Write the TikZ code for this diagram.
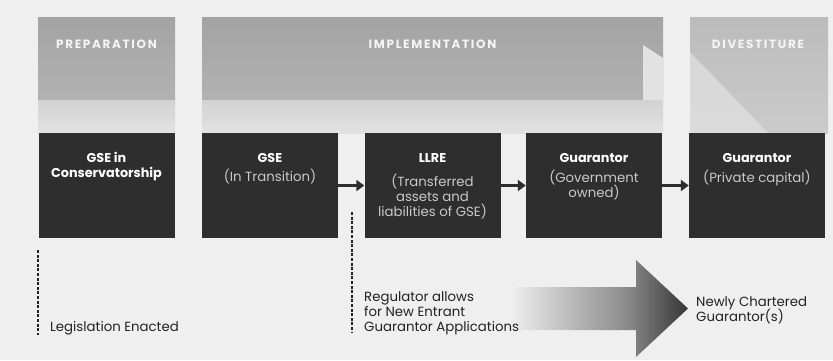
\documentclass[tikz,border=0pt]{standalone}
\usepackage{fontspec}
\setmainfont{Poppins}
\newfontfamily\banfont{Poppins}[LetterSpace=14]
\usetikzlibrary{arrows.meta}
\definecolor{bgc}{HTML}{EFEFEF}
\definecolor{bantop}{HTML}{A3A3A3}
\definecolor{banbot}{HTML}{B2B2B2}
\definecolor{lowtop}{HTML}{D2D2D2}
\definecolor{lowbot}{HTML}{E2E2E2}
\definecolor{divtop}{HTML}{BBBBBB}
\definecolor{divbot}{HTML}{CBCBCB}
\definecolor{boxc}{HTML}{2E2E2E}
\definecolor{subc}{HTML}{C9C9C9}
\definecolor{inkc}{HTML}{222222}
\definecolor{arrowmid}{HTML}{8A8A8A}
\definecolor{arrowtip}{HTML}{353535}
\pgfdeclarehorizontalshading{bigarrow}{100bp}{color(0bp)=(bgc); color(25bp)=(bgc); color(58bp)=(arrowmid); color(75bp)=(arrowtip); color(100bp)=(arrowtip)}
\tikzset{
  stagebox/.style={fill=boxc, minimum width=136pt, minimum height=105pt, inner sep=0pt, draw=none},
  boxtitle/.style={anchor=base, text=white, inner sep=0pt, font=\fontsize{12.8}{15}\selectfont\bfseries},
  boxsub/.style={anchor=base, text=subc, inner sep=0pt, font=\fontsize{13.3}{15}\selectfont},
  bantext/.style={anchor=center, text=white!96!black, inner sep=0pt, font=\banfont\fontsize{12}{14}\selectfont\bfseries},
  note/.style={anchor=base west, text=inkc, inner sep=0pt, font=\fontsize{13.3}{15}\selectfont},
  flow/.style={draw=boxc, line width=3.5pt, -{Triangle[length=8pt,width=11pt]}},
  dashline/.style={draw=inkc, line width=1.6pt, dash pattern=on 3pt off 1.6pt}
}
\begin{document}
\begin{tikzpicture}[x=1pt,y=-1pt]
\useasboundingbox (0,0) rectangle (833,360);
\fill[bgc] (0,0) rectangle (833,360);

% phase banners
\shade[top color=bantop, bottom color=banbot] (38,17) rectangle (175,100);
\shade[top color=lowtop, bottom color=lowbot] (38,100) rectangle (175,133);
\shade[top color=bantop, bottom color=banbot] (202,17) rectangle (663,100);
\shade[top color=lowtop, bottom color=lowbot] (202,100) rectangle (663,133);
\fill[lowbot] (643,45) -- (663,58) -- (663,100) -- (643,100) -- cycle;
\shade[top color=divtop, bottom color=divbot] (690,17) rectangle (828,133);
\fill[lowbot, opacity=0.7] (690,52) -- (768,133) -- (690,133) -- cycle;

\node[bantext] (ban1) at (106.5,44) {PREPARATION};
\node[bantext] (ban2) at (432.5,44) {IMPLEMENTATION};
\node[bantext] (ban3) at (758,44) {DIVESTITURE};

% stage boxes
\node[stagebox] (b1) at (106.5,185.5) {};
\node[stagebox] (b2) at (270,185.5) {};
\node[stagebox] (b3) at (432.5,185.5) {};
\node[stagebox] (b4) at (594,185.5) {};
\node[stagebox] (b5) at (757,185.5) {};

\node[boxtitle] (t1a) at (106.5,162.5) {GSE in};
\node[boxtitle] (t1b) at (106.5,177.5) {Conservatorship};
\node[boxtitle] (t2a) at (270,162.5) {GSE};
\node[boxsub] (t2b) at (270,181.5) {(In Transition)};
\node[boxtitle] (t3a) at (432.5,162.5) {LLRE};
\node[boxsub] (t3b) at (432.5,186.5) {(Transferred};
\node[boxsub] (t3c) at (432.5,201.5) {assets and};
\node[boxsub] (t3d) at (432.5,216.5) {liabilities of GSE)};
\node[boxtitle] (t4a) at (594,162.5) {Guarantor};
\node[boxsub] (t4b) at (594,182.5) {(Government};
\node[boxsub] (t4c) at (594,197.5) {owned)};
\node[boxtitle] (t5a) at (757,162.5) {Guarantor};
\node[boxsub] (t5b) at (757,182.5) {(Private capital)};

% flow arrows
\draw[flow] (b2) -- (b3);
\draw[flow] (b3) -- (b4);
\draw[flow] (b4) -- (b5);

% big gradient arrow (behind the notes)
\shade[shading=bigarrow] (510,287) -- (636,287) -- (636,260) -- (688,308.5) -- (636,357) -- (636,330) -- (510,330) -- cycle;

% milestone markers
\coordinate (d1a) at (38,250);
\coordinate (d1b) at (38,335);
\coordinate (d2a) at (352,212);
\coordinate (d2b) at (352,333);
\draw[dashline] (d1a) -- (d1b);
\draw[dashline] (d2a) -- (d2b);

\node[note] (n1) at (50,331.5) {Legislation Enacted};
\node[note] (n2a) at (364,301.5) {Regulator allows};
\node[note] (n2b) at (364,316.5) {for New Entrant};
\node[note] (n2c) at (364,331.5) {Guarantor Applications};

\node[note] (n3a) at (696,306.5) {Newly Chartered};
\node[note] (n3b) at (696,321.5) {Guarantor(s)};
\end{tikzpicture}
\end{document}
